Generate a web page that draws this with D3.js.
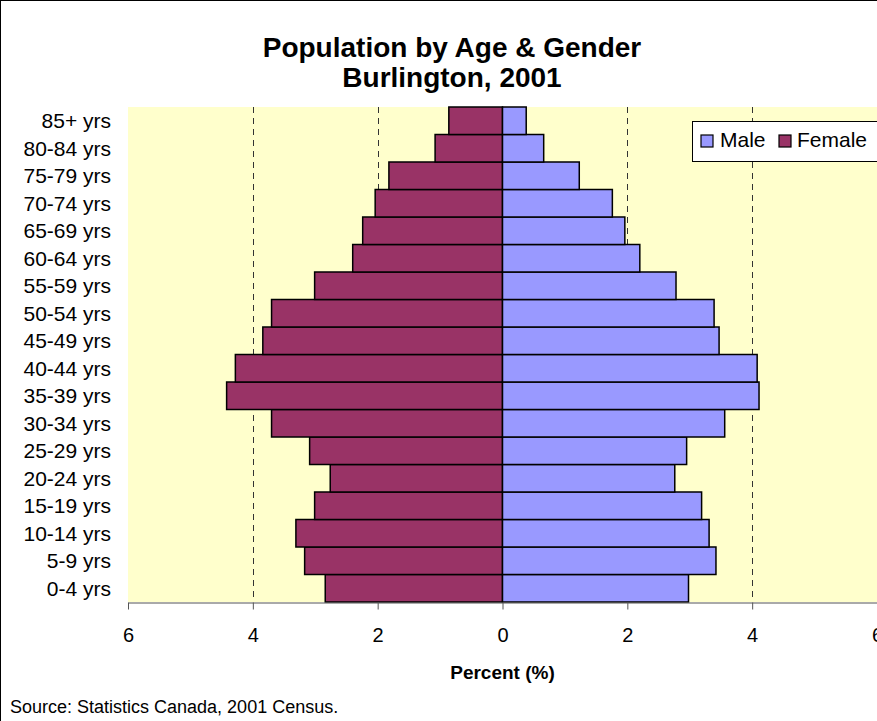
<!DOCTYPE html>
<html>

<head>
    <meta charset="UTF-8">
    <title>Population by Age & Gender</title>
    <style>
        body {
            margin: 0;
            background: #fff;
        }

        svg {
            display: block;
            font-family: "Liberation Sans", Arial, sans-serif;
        }

        .ylab {
            font-size: 21px;
            fill: #000;
        }

        .xtick text {
            font-size: 20px;
            fill: #000;
        }
    </style>
</head>

<body>
    <svg id="chart" width="877" height="721"></svg>

    <script src="https://d3js.org/d3.v7.min.js"></script>

    <script>
        // data (percent of population)
        var ageGroups = ["0-4 yrs", "5-9 yrs", "10-14 yrs", "15-19 yrs", "20-24 yrs", "25-29 yrs",
            "30-34 yrs", "35-39 yrs", "40-44 yrs", "45-49 yrs", "50-54 yrs", "55-59 yrs",
            "60-64 yrs", "65-69 yrs", "70-74 yrs", "75-79 yrs", "80-84 yrs", "85+ yrs"];
        var male = [2.98, 3.42, 3.31, 3.19, 2.76, 2.95, 3.56, 4.11, 4.08, 3.47, 3.39, 2.78,
            2.20, 1.96, 1.76, 1.23, 0.66, 0.38];
        var female = [2.84, 3.17, 3.31, 3.01, 2.76, 3.09, 3.70, 4.42, 4.28, 3.84, 3.70, 3.01,
            2.40, 2.24, 2.04, 1.82, 1.08, 0.86];
        var xTicks = [-6, -4, -2, 0, 2, 4, 6];
        var gridValues = [-4, -2, 2, 4];

        var svg = d3.select("#chart"),
            width = +svg.attr("width"),
            height = +svg.attr("height");

        var plot = { left: 128, right: 877, top: 107, bottom: 602 };

        var x = d3.scaleLinear().domain([-6, 6]).range([plot.left, plot.right]);
        var y = d3.scaleBand()
            .domain(ageGroups.slice().reverse())
            .range([plot.top, plot.bottom])
            .padding(0);

        // outer chart border
        svg.append("rect")
            .attr("x", 0.5).attr("y", 0.5)
            .attr("width", width + 20).attr("height", height + 20)
            .attr("fill", "#fff").attr("stroke", "#000");

        // plot background
        svg.append("rect")
            .attr("x", plot.left).attr("y", plot.top)
            .attr("width", plot.right - plot.left).attr("height", plot.bottom - plot.top)
            .attr("fill", "#FFFFCC");

        // dashed gridlines
        svg.append("g")
            .selectAll("line")
            .data(gridValues)
            .join("line")
            .attr("x1", d => Math.round(x(d)) + 0.5)
            .attr("x2", d => Math.round(x(d)) + 0.5)
            .attr("y1", plot.top)
            .attr("y2", plot.bottom)
            .attr("stroke", "#333")
            .attr("stroke-dasharray", "6,5");

        var rows = ageGroups.map((g, i) => ({ group: g, male: male[i], female: female[i] }));

        // female bars (left)
        svg.append("g")
            .selectAll("rect")
            .data(rows)
            .join("rect")
            .attr("x", d => x(-d.female))
            .attr("y", d => y(d.group))
            .attr("width", d => x(0) - x(-d.female))
            .attr("height", y.bandwidth())
            .attr("fill", "#993366")
            .attr("stroke", "#000")
            .attr("stroke-width", 1.5);

        // male bars (right)
        svg.append("g")
            .selectAll("rect")
            .data(rows)
            .join("rect")
            .attr("x", x(0))
            .attr("y", d => y(d.group))
            .attr("width", d => x(d.male) - x(0))
            .attr("height", y.bandwidth())
            .attr("fill", "#9999FF")
            .attr("stroke", "#000")
            .attr("stroke-width", 1.5);

        // x axis
        var xAxis = svg.append("g")
            .attr("class", "xtick")
            .attr("transform", "translate(0," + (plot.bottom + 0.5) + ")")
            .call(d3.axisBottom(x)
                .tickValues(xTicks)
                .tickSize(7)
                .tickSizeOuter(0)
                .tickPadding(18)
                .tickFormat(d => Math.abs(d)));
        xAxis.select(".domain").attr("stroke", "#555");
        xAxis.selectAll(".tick line").attr("stroke", "#555");
        xAxis.selectAll("text").attr("font-family", null).attr("font-size", null);

        // y category labels
        svg.append("g")
            .selectAll("text")
            .data(ageGroups)
            .join("text")
            .attr("class", "ylab")
            .attr("x", 111)
            .attr("y", d => y(d) + y.bandwidth() / 2)
            .attr("dy", "0.35em")
            .attr("text-anchor", "end")
            .text(d => d);

        // title
        svg.append("text")
            .attr("x", 452).attr("y", 57)
            .attr("text-anchor", "middle")
            .attr("font-size", 28).attr("font-weight", "bold")
            .text("Population by Age & Gender");
        svg.append("text")
            .attr("x", 452).attr("y", 87)
            .attr("text-anchor", "middle")
            .attr("font-size", 28).attr("font-weight", "bold")
            .text("Burlington, 2001");

        // axis title
        svg.append("text")
            .attr("x", x(0)).attr("y", 679)
            .attr("text-anchor", "middle")
            .attr("font-size", 19).attr("font-weight", "bold")
            .text("Percent (%)");

        // source
        svg.append("text")
            .attr("x", 10).attr("y", 713)
            .attr("font-size", 18)
            .text("Source: Statistics Canada, 2001 Census.");

        // legend
        var legend = svg.append("g").attr("transform", "translate(692,121)");
        legend.append("rect")
            .attr("x", 0.5).attr("y", 0.5)
            .attr("width", 220).attr("height", 40)
            .attr("fill", "#fff").attr("stroke", "#000");
        var items = [{ name: "Male", color: "#9999FF", sx: 9, tx: 28 },
        { name: "Female", color: "#993366", sx: 87, tx: 105 }];
        legend.selectAll("rect.sw")
            .data(items)
            .join("rect")
            .attr("class", "sw")
            .attr("x", d => d.sx).attr("y", 14)
            .attr("width", 12).attr("height", 12)
            .attr("fill", d => d.color)
            .attr("stroke", "#000")
            .attr("stroke-width", 1.2);
        legend.selectAll("text")
            .data(items)
            .join("text")
            .attr("x", d => d.tx).attr("y", 26)
            .attr("font-size", 21)
            .text(d => d.name);
    </script>

</body>

</html>
